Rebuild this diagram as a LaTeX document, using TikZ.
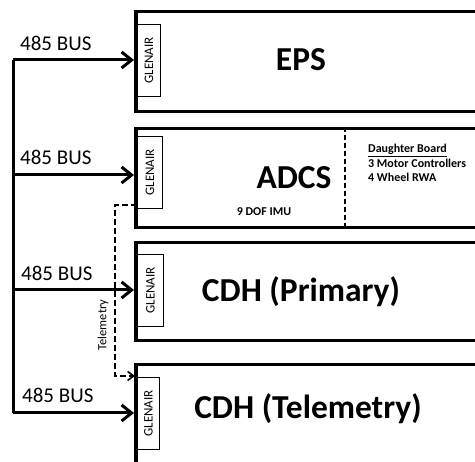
\documentclass[tikz,border=0pt]{standalone}
\usepackage{fontspec}
\setmainfont{Carlito}
\usetikzlibrary{arrows.meta}
\begin{document}
\begin{tikzpicture}[x=1pt,y=-1pt,
  sysbox/.style={draw,line width=3.5pt,anchor=north west,minimum width=350pt,inner sep=0pt},
  glen/.style={draw,line width=0.8pt,anchor=north west,minimum width=23pt,minimum height=72pt,inner sep=0pt},
  glentext/.style={rotate=90,font=\fontsize{13}{15}\selectfont},
  big/.style={font=\fontsize{33.5}{38}\selectfont\bfseries},
  buslabel/.style={anchor=west,font=\fontsize{21}{25}\selectfont,inner sep=0pt},
  busline/.style={line width=3pt},
  busarrow/.style={line width=3pt,-{Straight Barb[length=10pt,width=16pt,line width=3pt]}},
  telline/.style={line width=1.6pt,dash pattern=on 6pt off 3pt},
  small/.style={font=\fontsize{12}{14.5}\selectfont\bfseries}]
\useasboundingbox (0,0) rectangle (475,462);
% system boxes
\node[sysbox,minimum height=100pt] (eps) at (134,10) {};
\node[sysbox,minimum height=99pt] (adcs) at (134,127) {};
\node[sysbox,minimum height=98pt] (cdhp) at (134,241) {};
\node[sysbox,minimum height=100pt] (cdht) at (134,363) {};
% connectors
\node[glen] (g1) at (137,24) {};
\node[glen,minimum width=25pt] (g2) at (137,136) {};
\node[glen,minimum width=26pt] (g3) at (137,254) {};
\node[glen,minimum width=22pt] (g4) at (137,377) {};
\node[glentext] at (g1.center) {GLENAIR};
\node[glentext] at (g2.center) {GLENAIR};
\node[glentext] at (g3.center) {GLENAIR};
\node[glentext] at (g4.center) {GLENAIR};
% titles
\node[big] (tEPS) at (301,60) {EPS};
\node[big] (tADCS) at (294,178) {ADCS};
\node[big] (tCDHP) at (301,292) {CDH (Primary)};
\node[big] (tCDHT) at (308,409) {CDH (Telemetry)};
\node[small] (imu) at (264,212) {9 DOF IMU};
\node[small,anchor=north west,align=left,inner sep=0pt] (db) at (368,144) {\underline{Daughter Board}\\3 Motor Controllers\\4 Wheel RWA};
% ADCS divider
\coordinate (dtop) at (345,127);
\coordinate (dbot) at (345,226);
\draw[line width=1.6pt,dash pattern=on 5pt off 3pt] (dtop) -- (dbot);
% bus
\coordinate (b1) at (13,60);
\coordinate (b2) at (13,175);
\coordinate (b3) at (13,290);
\coordinate (b4) at (13,413);
\draw[busline] (b1) -- (b4);
\draw[busarrow] (b1) -- (b1 -| eps.west);
\draw[busarrow] (b2) -- (b2 -| adcs.west);
\draw[busarrow] (b3) -- (b3 -| cdhp.west);
\draw[busarrow] (b4) -- (b4 -| cdht.west);
\node[buslabel] (l1) at (20,43) {485 BUS};
\node[buslabel] (l2) at (20,157) {485 BUS};
\node[buslabel] (l3) at (21,273) {485 BUS};
\node[buslabel] (l4) at (22,395) {485 BUS};
% telemetry
\coordinate (t0) at (137,205);
\coordinate (t1) at (115,205);
\coordinate (t2) at (115,376);
\coordinate (t3) at (135,376);
\draw[telline,-{Straight Barb[length=6pt,width=9pt,line width=1.6pt]}] (t0) -- (t1) -- (t2) -- (t3);
\node[rotate=90,font=\fontsize{12.5}{14}\selectfont] (tl) at (103,325) {Telemetry};
\end{tikzpicture}
\end{document}
